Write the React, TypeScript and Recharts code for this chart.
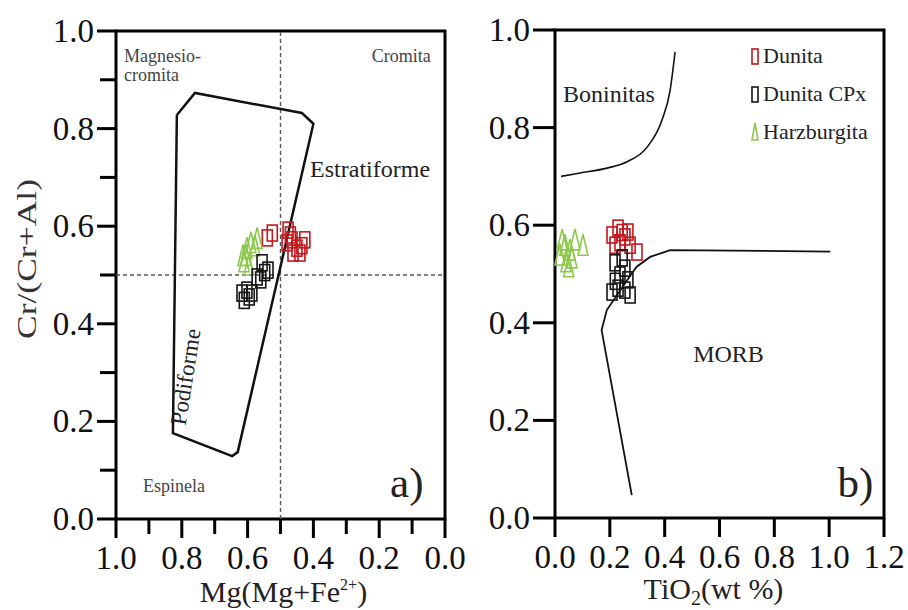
import React from "react";
import {
  ScatterChart, Scatter, XAxis, YAxis,
  ReferenceLine, ReferenceArea, ReferenceDot,
} from "recharts";

const SERIF = '"Liberation Serif", "Times New Roman", serif';
const RED = "#c4161c";
const BLACK = "#151515";
const GREEN = "#8cc84b";

// ticks
const MG_TICKS = [0, 0.1, 0.2, 0.3, 0.4, 0.5, 0.6, 0.7, 0.8, 0.9, 1.0];
const CR_TICKS_A = [0, 0.1, 0.2, 0.3, 0.4, 0.5, 0.6, 0.7, 0.8, 0.9, 1.0];
const CR_TICKS_B = [0, 0.2, 0.4, 0.6, 0.8, 1.0];
const TI_TICKS = [0, 0.2, 0.4, 0.6, 0.8, 1.0, 1.2];

// a) Mg# vs Cr#  (x = Mg/(Mg+Fe2+), y = Cr/(Cr+Al))
const DUNITA_A = [
  { x: 0.540, y: 0.576 }, { x: 0.525, y: 0.586 }, { x: 0.477, y: 0.592 },
  { x: 0.465, y: 0.572 }, { x: 0.450, y: 0.555 }, { x: 0.441, y: 0.545 },
  { x: 0.426, y: 0.572 }, { x: 0.462, y: 0.545 }, { x: 0.480, y: 0.566 },
  { x: 0.470, y: 0.582 }, { x: 0.435, y: 0.560 },
];
const HARZ_A = [
  { x: 0.614, y: 0.540 }, { x: 0.602, y: 0.555 }, { x: 0.590, y: 0.566 },
  { x: 0.578, y: 0.560 }, { x: 0.596, y: 0.520 }, { x: 0.611, y: 0.527 },
  { x: 0.571, y: 0.575 }, { x: 0.605, y: 0.540 },
];
const CPX_A = [
  { x: 0.556, y: 0.525 }, { x: 0.538, y: 0.510 }, { x: 0.571, y: 0.496 },
  { x: 0.602, y: 0.469 }, { x: 0.587, y: 0.463 }, { x: 0.617, y: 0.463 },
  { x: 0.560, y: 0.490 }, { x: 0.548, y: 0.505 }, { x: 0.595, y: 0.455 },
  { x: 0.610, y: 0.448 },
];
// podiform / stratiform field outline (closed)
const PODIFORM = [
  { x: 0.815, y: 0.828 }, { x: 0.760, y: 0.873 }, { x: 0.435, y: 0.832 },
  { x: 0.400, y: 0.810 }, { x: 0.630, y: 0.137 }, { x: 0.647, y: 0.129 },
  { x: 0.827, y: 0.176 }, { x: 0.815, y: 0.828 },
];

// b) TiO2 vs Cr#
const DUNITA_B = [
  { x: 0.208, y: 0.580 }, { x: 0.230, y: 0.594 }, { x: 0.255, y: 0.576 },
  { x: 0.274, y: 0.559 }, { x: 0.237, y: 0.564 }, { x: 0.299, y: 0.545 },
  { x: 0.219, y: 0.559 }, { x: 0.266, y: 0.586 }, { x: 0.245, y: 0.585 },
];
const HARZ_B = [
  { x: 0.018, y: 0.539 }, { x: 0.036, y: 0.559 }, { x: 0.055, y: 0.549 },
  { x: 0.073, y: 0.570 }, { x: 0.102, y: 0.559 }, { x: 0.040, y: 0.525 },
  { x: 0.062, y: 0.533 }, { x: 0.026, y: 0.570 }, { x: 0.050, y: 0.515 },
];
const CPX_B = [
  { x: 0.219, y: 0.523 }, { x: 0.237, y: 0.498 }, { x: 0.255, y: 0.512 },
  { x: 0.230, y: 0.471 }, { x: 0.255, y: 0.467 }, { x: 0.274, y: 0.457 },
  { x: 0.208, y: 0.463 }, { x: 0.245, y: 0.533 }, { x: 0.266, y: 0.488 },
  { x: 0.220, y: 0.485 },
];
const BONINITE = [
  { x: 0.022, y: 0.700 }, { x: 0.091, y: 0.707 }, { x: 0.190, y: 0.717 },
  { x: 0.263, y: 0.730 }, { x: 0.336, y: 0.760 }, { x: 0.390, y: 0.815 },
  { x: 0.420, y: 0.877 }, { x: 0.438, y: 0.955 },
];
const MORB = [
  { x: 1.004, y: 0.546 }, { x: 0.420, y: 0.549 }, { x: 0.347, y: 0.535 },
  { x: 0.298, y: 0.515 }, { x: 0.280, y: 0.501 }, { x: 0.189, y: 0.426 },
  { x: 0.170, y: 0.385 }, { x: 0.280, y: 0.047 },
];

const LEGEND = [
  { name: "Dunita", color: RED, kind: "rect" },
  { name: "Dunita CPx", color: BLACK, kind: "rect" },
  { name: "Harzburgita", color: GREEN, kind: "tri" },
];

const rectShape = (color: string) => (p: any) => (
  <rect x={p.cx - 5} y={p.cy - 8} width={10} height={16} fill="none" stroke={color} strokeWidth={1.6} />
);
const triShape = (color: string) => (p: any) => (
  <path d={`M${p.cx},${p.cy - 11} L${p.cx + 5},${p.cy + 10} L${p.cx - 5},${p.cy + 10} Z`} fill="none" stroke={color} strokeWidth={1.6} />
);
const noShape = () => <g />;

function makeXTick(minor: boolean) {
  return ({ x, y, payload }: any) => {
    const v = payload.value;
    const major = !minor || Math.round(v * 10) % 2 === 0;
    return (
      <g>
        <line x1={x} y1={y} x2={x} y2={y + (major ? 19 : 15)} stroke="#000" strokeWidth={3} />
        {major && (
          <text x={x} y={y + 50} textAnchor="middle" fontFamily={SERIF} fontSize={33} fill="#111">
            {v.toFixed(1)}
          </text>
        )}
      </g>
    );
  };
}

function makeYTick(minor: boolean, len: number) {
  return ({ x, y, payload }: any) => {
    const v = payload.value;
    const major = !minor || Math.round(v * 10) % 2 === 0;
    return (
      <g>
        <line x1={x - (major ? len : len - 3)} y1={y} x2={x} y2={y} stroke="#000" strokeWidth={3} />
        {major && (
          <text x={x - len - 3} y={y + 11} textAnchor="end" fontFamily={SERIF} fontSize={33} fill="#111">
            {v.toFixed(1)}
          </text>
        )}
      </g>
    );
  };
}

function note(key: string, x: number, y: number, body: React.ReactNode, opts: any = {}) {
  const { size = 18, anchor = "start", fill = "#333", rotate = 0 } = opts;
  return (
    <ReferenceDot
      key={key}
      x={x}
      y={y}
      r={0}
      fill="none"
      stroke="none"
      label={(p: any) => {
        const vb = p.viewBox || {};
        const cx = vb.x + (vb.width || 0) / 2;
        const cy = vb.y + (vb.height || 0) / 2;
        return (
          <text
            transform={`translate(${cx},${cy}) rotate(${rotate})`}
            textAnchor={anchor}
            fontFamily={SERIF}
            fontSize={size}
            fill={fill}
          >
            {body}
          </text>
        );
      }}
    />
  );
}

const mgTitle = (p: any) => {
  const vb = p.viewBox;
  return (
    <text x={vb.x + vb.width / 2 + 3} y={vb.y + 83} textAnchor="middle" fontFamily={SERIF} fontSize={30} fill="#222">
      Mg(Mg+Fe<tspan dy={-12} fontSize={16}>2+</tspan><tspan dy={12}>)</tspan>
    </text>
  );
};
const tiTitle = (p: any) => {
  const vb = p.viewBox;
  return (
    <text x={vb.x + vb.width / 2 - 6} y={vb.y + 81} textAnchor="middle" fontFamily={SERIF} fontSize={30} fill="#222">
      TiO<tspan dy={6} fontSize={20}>2</tspan><tspan dy={-6}>(wt %)</tspan>
    </text>
  );
};
const crTitle = (p: any) => {
  const vb = p.viewBox;
  return (
    <text
      transform={`translate(${vb.x + 36},${vb.y + vb.height / 2 - 16}) rotate(-90)`}
      textAnchor="middle"
      fontFamily={SERIF}
      fontSize={28}
      fill="#333"
      textLength={160}
      lengthAdjust="spacingAndGlyphs"
    >
      Cr/(Cr+Al)
    </text>
  );
};

function PanelA() {
  return (
    <ScatterChart width={485} height={610} margin={{ top: 31, right: 40, bottom: 0, left: 0 }}>
      <XAxis
        type="number" dataKey="x" domain={[0, 1]} reversed ticks={MG_TICKS} interval={0}
        height={91} tickSize={0} tickMargin={0} tickLine={false} axisLine={false}
        tick={makeXTick(true)} label={mgTitle}
      />
      <YAxis
        type="number" dataKey="y" domain={[0, 1]} ticks={CR_TICKS_A} interval={0}
        width={116} tickSize={0} tickMargin={0} tickLine={false} axisLine={false}
        tick={makeYTick(true, 19)} label={crTitle}
      />
      <ReferenceArea x1={0} x2={1} y1={0} y2={1} fill="none" stroke="#000" strokeWidth={3} />
      <ReferenceLine x={0.5} stroke="#555" strokeDasharray="4 3" strokeWidth={1.4} />
      <ReferenceLine y={0.5} stroke="#555" strokeDasharray="4 3" strokeWidth={1.4} />
      <Scatter data={PODIFORM} shape={noShape} line={{ stroke: "#111", strokeWidth: 2.5 }} isAnimationActive={false} />
      <Scatter data={DUNITA_A} shape={rectShape(RED)} isAnimationActive={false} />
      <Scatter data={HARZ_A} shape={triShape(GREEN)} isAnimationActive={false} />
      <Scatter data={CPX_A} shape={rectShape(BLACK)} isAnimationActive={false} />
      {note("mg", 0.976, 0.936, <>
        <tspan x={0} dy={0}>Magnesio-</tspan>
        <tspan x={0} dy={19}>cromita</tspan>
      </>, { size: 18, fill: "#444" })}
      {note("cr", 0.043, 0.936, "Cromita", { size: 18, anchor: "end", fill: "#444" })}
      {note("es", 0.41, 0.70, "Estratiforme", { size: 24, fill: "#222" })}
      {note("sp", 0.918, 0.055, "Espinela", { size: 18, fill: "#444" })}
      {note("a", 0.167, 0.045, "a)", { size: 43, fill: "#222" })}
      {note("pod", 0.766, 0.289, "Podiforme", { size: 23, anchor: "middle", fill: "#222", rotate: -81 })}
    </ScatterChart>
  );
}

function PanelB() {
  return (
    <ScatterChart width={448} height={610} margin={{ top: 30, right: 24, bottom: 0, left: 0 }}>
      <XAxis
        type="number" dataKey="x" domain={[0, 1.2]} ticks={TI_TICKS} interval={0}
        height={92} tickSize={0} tickMargin={0} tickLine={false} axisLine={false}
        tick={makeXTick(false)} label={tiTitle}
      />
      <YAxis
        type="number" dataKey="y" domain={[0, 1]} ticks={CR_TICKS_B} interval={0}
        width={95} tickSize={0} tickMargin={0} tickLine={false} axisLine={false}
        tick={makeYTick(false, 22)}
      />
      <ReferenceArea x1={0} x2={1.2} y1={0} y2={1} fill="none" stroke="#000" strokeWidth={3} />
      <Scatter data={BONINITE} shape={noShape} line={{ stroke: "#111", strokeWidth: 1.6 }} lineJointType="monotoneX" isAnimationActive={false} />
      <Scatter data={MORB} shape={noShape} line={{ stroke: "#111", strokeWidth: 1.8 }} isAnimationActive={false} />
      <Scatter data={DUNITA_B} shape={rectShape(RED)} isAnimationActive={false} />
      <Scatter data={HARZ_B} shape={triShape(GREEN)} isAnimationActive={false} />
      <Scatter data={CPX_B} shape={rectShape(BLACK)} isAnimationActive={false} />
      {note("bon", 0.029, 0.852, "Boninitas", { size: 24, fill: "#222" })}
      {note("morb", 0.504, 0.32, "MORB", { size: 24, fill: "#222" })}
      {note("b", 1.03, 0.043, "b)", { size: 43, fill: "#222" })}
    </ScatterChart>
  );
}

function Legend() {
  return (
    <svg width={150} height={110} style={{ position: "absolute", left: 745, top: 38 }}>
      {LEGEND.map((l, i) => {
        const cy = 18 + i * 38;
        return (
          <g key={l.name}>
            {l.kind === "rect" ? (
              <rect x={7} y={cy - 7} width={6} height={15} fill="none" stroke={l.color} strokeWidth={1.6} />
            ) : (
              <path d={`M10,${cy - 9} L13,${cy + 8} L7,${cy + 8} Z`} fill="none" stroke={l.color} strokeWidth={1.6} />
            )}
            <text x={18} y={cy + 7} fontFamily={SERIF} fontSize={22} fill="#222">{l.name}</text>
          </g>
        );
      })}
    </svg>
  );
}

export default function App() {
  return (
    <div style={{ position: "absolute", left: 0, top: 0, width: 908, height: 610, background: "#fff", overflow: "hidden" }}>
      <div style={{ position: "absolute", left: 0, top: 0 }}>
        <PanelA />
      </div>
      <div style={{ position: "absolute", left: 460, top: 0 }}>
        <PanelB />
      </div>
      <Legend />
    </div>
  );
}
